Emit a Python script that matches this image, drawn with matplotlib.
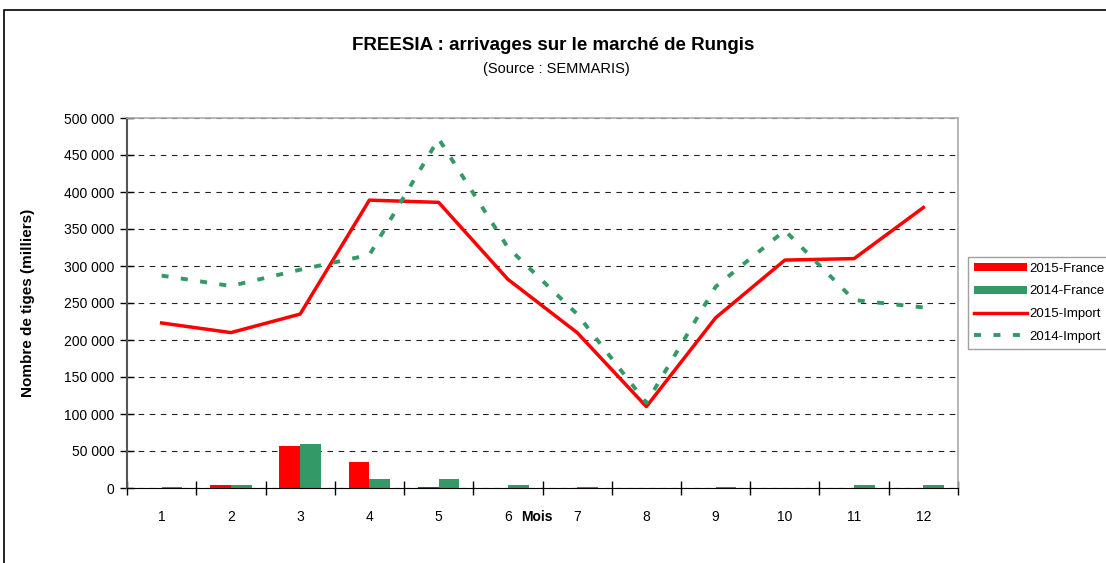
import numpy as np
import matplotlib.pyplot as plt
from matplotlib.patches import Rectangle
from matplotlib.ticker import FuncFormatter

plt.rcParams['font.family'] = ['Liberation Sans', 'DejaVu Sans']

mois = [1, 2, 3, 4, 5, 6, 7, 8, 9, 10, 11, 12]
france_2015 = [0, 4000, 57000, 35000, 1000, 0, 0, 0, 0, 0, 0, 0]
france_2014 = [1000, 4000, 60000, 12000, 12000, 4000, 1000, 0, 1000, 0, 4000, 4000]
import_2015 = [223000, 210000, 235000, 389000, 386000, 282000, 210000, 110000, 230000, 308000, 310000, 379000]
import_2014 = [287000, 273000, 295000, 315000, 472000, 325000, 235000, 115000, 272000, 348000, 254000, 244000]

rouge = '#ff0000'
vert = '#339966'

fig = plt.figure(figsize=(11.06, 5.63), dpi=100)
ax = fig.add_axes([127/1106, 75/563, 831/1106, 370/563])

# cadre extérieur du graphique
fig.patches.append(Rectangle((4/1106, -0.02), 1.02, 1 - 10/563 + 0.02,
                             transform=fig.transFigure, fill=False,
                             edgecolor='black', linewidth=1.2))

x = np.arange(len(mois))
w = 0.3
b1 = ax.bar(x - w/2, france_2015, w, color=rouge, label='2015-France', zorder=3)
b2 = ax.bar(x + w/2, france_2014, w, color=vert, label='2014-France', zorder=3)
l1, = ax.plot(x, import_2015, color=rouge, lw=2.5, label='2015-Import', zorder=4)
l2, = ax.plot(x, import_2014, color=vert, lw=2.8, linestyle=(0, (1.8, 3.2)),
              label='2014-Import', zorder=4)

ax.set_xlim(-0.5, 11.5)
ax.set_ylim(0, 500000)
ax.set_yticks(np.arange(0, 500001, 50000))
ax.yaxis.set_major_formatter(FuncFormatter(lambda v, p: f'{int(v):,}'.replace(',', ' ')))
ax.set_xticks(x)
ax.set_xticklabels([str(m) for m in mois])
ax.set_xticks(np.arange(-0.5, 12, 1), minor=True)
ax.tick_params(axis='x', which='major', length=0, pad=16, labelsize=10)
ax.tick_params(axis='x', which='minor', direction='inout', length=10, width=1)
ax.tick_params(axis='y', direction='inout', length=10, width=1, labelsize=10, pad=4)

ax.grid(axis='y', color='#222222', linestyle=(0, (5, 5)), linewidth=0.8, zorder=1)
for s in ['top', 'right']:
    ax.spines[s].set_color('#aaaaaa')
    ax.spines[s].set_linewidth(1.2)
ax.spines['left'].set_color('#555555')
ax.spines['left'].set_linewidth(1.5)
ax.spines['bottom'].set_color('black')
ax.spines['bottom'].set_zorder(5)

fig.text(553/1106, 1 - 45/563, 'FREESIA : arrivages sur le marché de Rungis',
         ha='center', va='center', fontsize=13.5, fontweight='bold')
fig.text(556/1106, 1 - 69/563, '(Source : SEMMARIS)', ha='center', va='center', fontsize=10.5)
fig.text(28/1106, 1 - 303/563, 'Nombre de tiges (milliers)', rotation=90,
         ha='center', va='center', fontsize=11, fontweight='bold')
fig.text(537/1106, 1 - 517/563, 'Mois', ha='center', va='center', fontsize=10, fontweight='bold')

leg = fig.legend([b1, b2, l1, l2], ['2015-France', '2014-France', '2015-Import', '2014-Import'],
                 loc='upper left', bbox_to_anchor=(968/1106, 1 - 257/563), borderaxespad=0,
                 fontsize=9.5, frameon=True, fancybox=False, handlelength=4.0,
                 handleheight=0.5, borderpad=0.45, labelspacing=0.8, handletextpad=0.2)
leg.get_frame().set_edgecolor('#888888')
leg.get_frame().set_linewidth(1)

fig.savefig('out.png', dpi=100)
